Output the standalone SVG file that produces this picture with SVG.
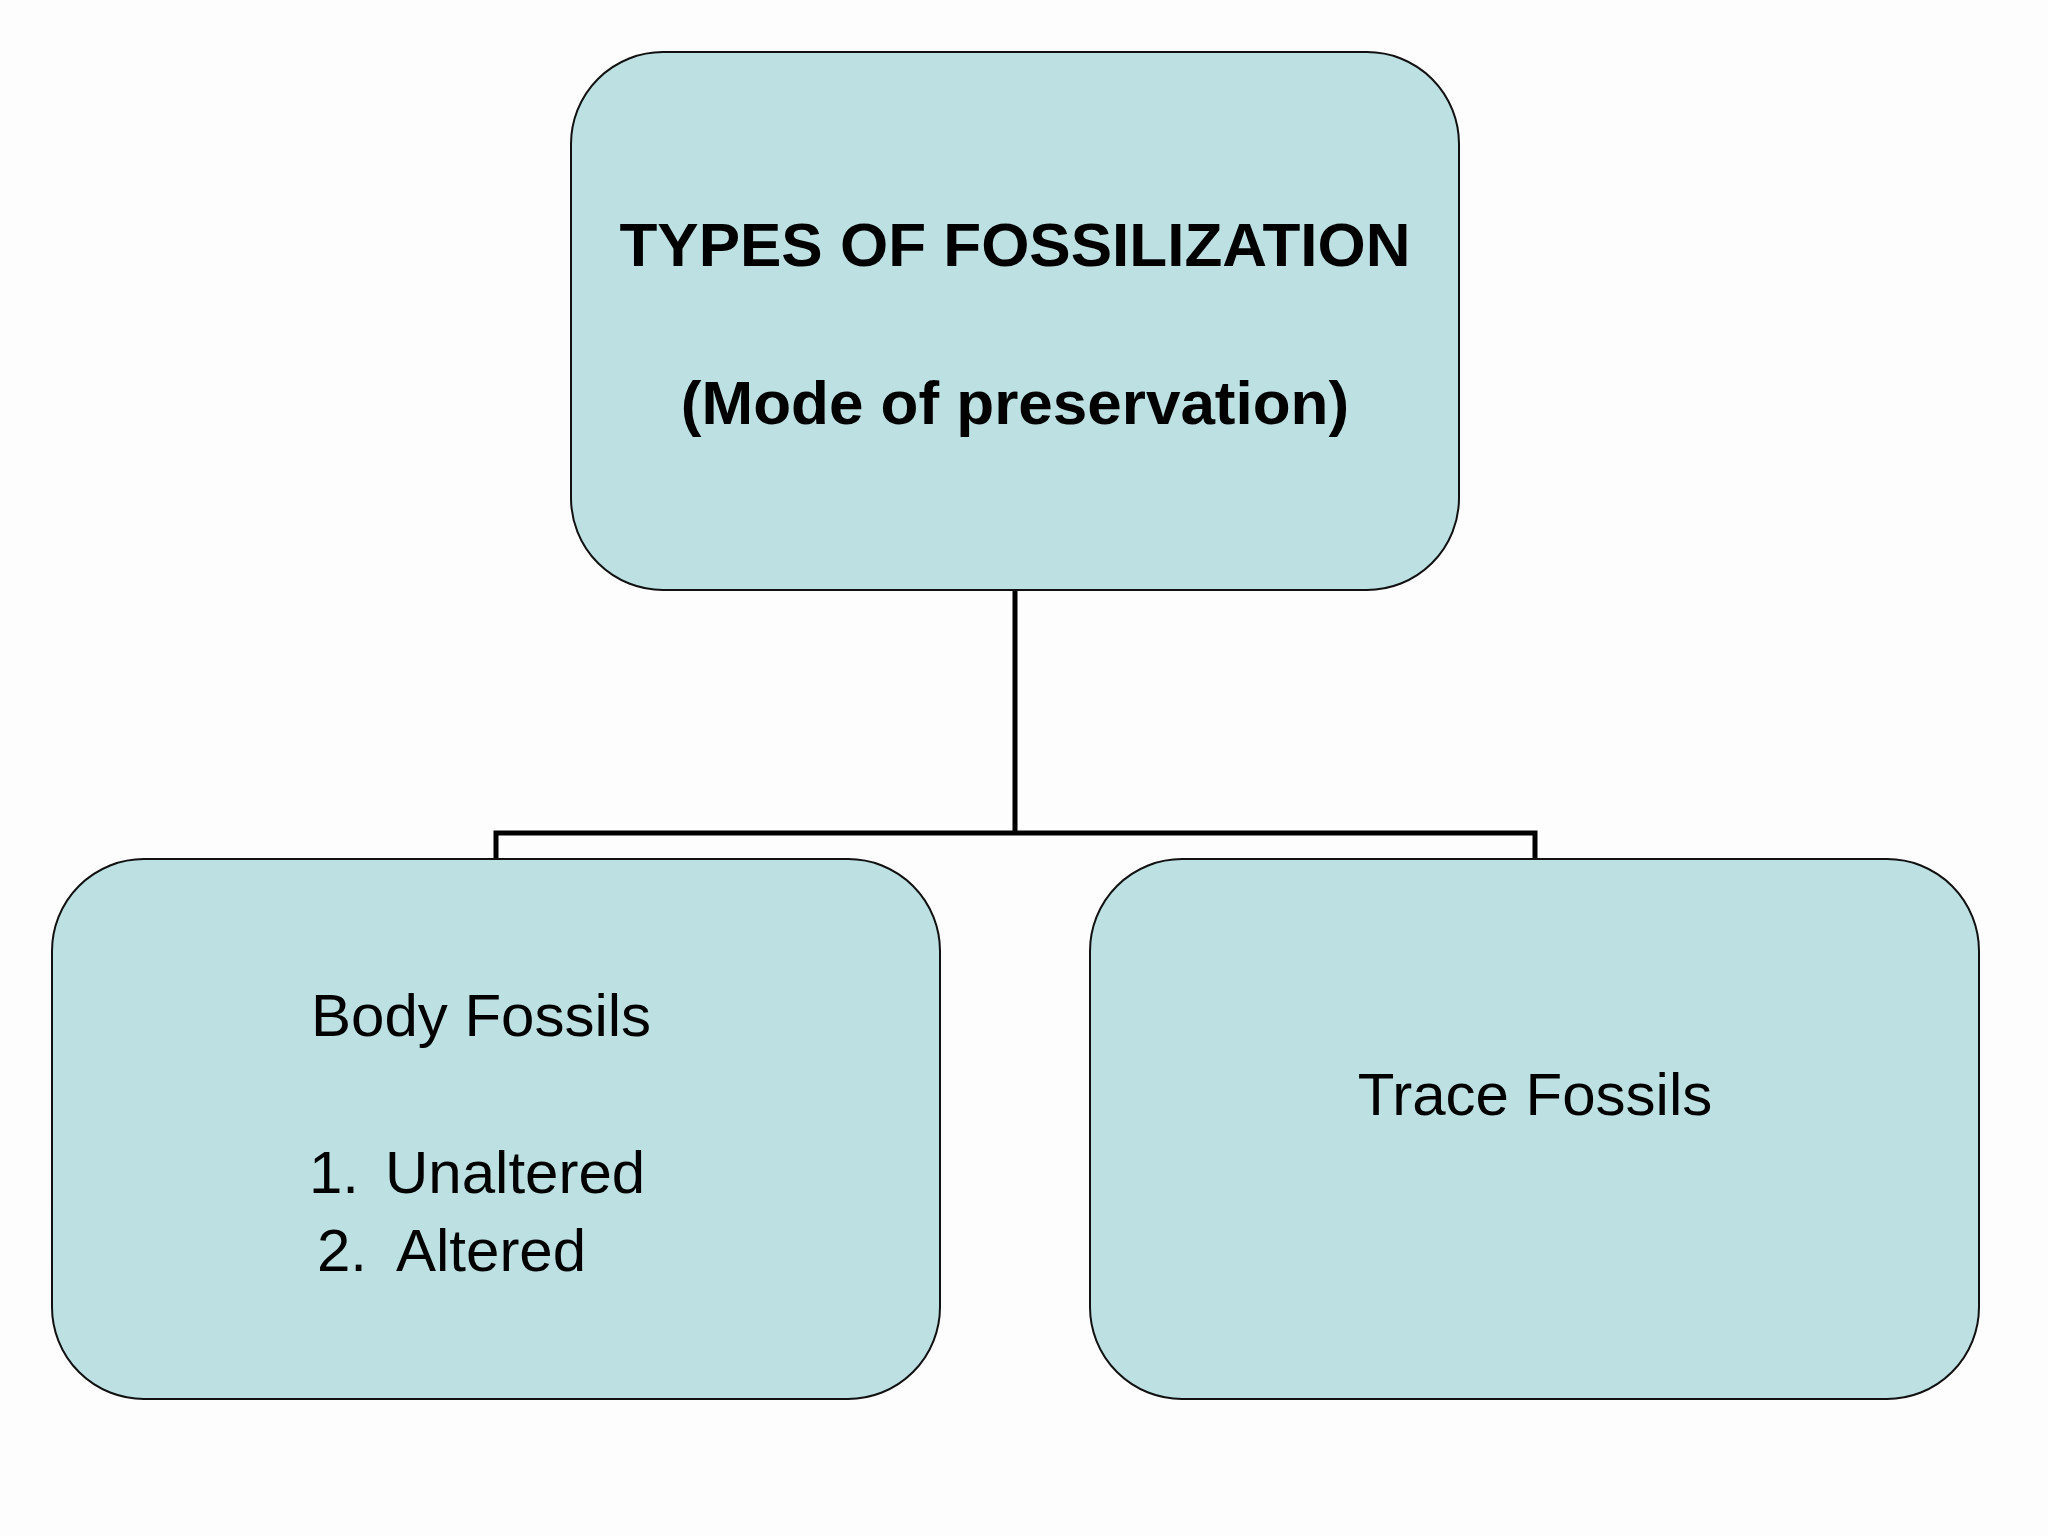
<svg xmlns="http://www.w3.org/2000/svg" width="2048" height="1536" viewBox="0 0 2048 1536">
<style>
.box{fill:#bde0e3;stroke:#111;stroke-width:2}
.t{font-family:"Liberation Sans",Arial,sans-serif;fill:#000}
.b{font-weight:bold;font-size:62px}
.n{font-size:60px}
.c{fill:none;stroke:#000;stroke-width:5}
</style>
<rect width="2048" height="1536" fill="#fdfdfd"/>
<g id="connectors">
<path class="c" d="M1015 590V833M496 859V833H1535V859"/>
</g>
<g id="top">
<rect class="box" x="571" y="52" width="888" height="538" rx="92"/>
<text class="t b" x="1015" y="266" text-anchor="middle">TYPES OF FOSSILIZATION</text>
<text class="t b" x="1015" y="424" text-anchor="middle">(Mode of preservation)</text>
</g>
<g id="body">
<rect class="box" x="52" y="859" width="888" height="540" rx="92"/>
<text class="t n" x="311" y="1036">Body Fossils</text>
<text class="t n" x="309" y="1193">1.</text>
<text class="t n" x="385" y="1193">Unaltered</text>
<text class="t n" x="317" y="1271">2.</text>
<text class="t n" x="396" y="1271">Altered</text>
</g>
<g id="trace">
<rect class="box" x="1090" y="859" width="889" height="540" rx="92"/>
<text class="t n" x="1535" y="1115" text-anchor="middle">Trace Fossils</text>
</g>
</svg>
